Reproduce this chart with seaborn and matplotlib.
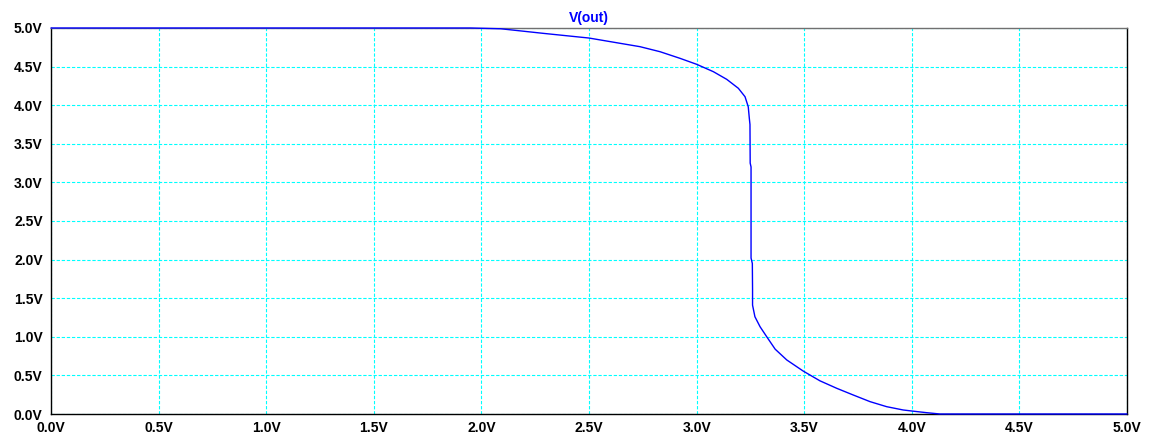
import matplotlib
matplotlib.use("Agg")
import matplotlib.pyplot as plt
import seaborn as sns
import pandas as pd

# Data (DC sweep of inverter input)
v_in = [0.0, 1.95, 2.09, 2.29, 2.5, 2.737, 2.83, 2.923, 3.0, 3.078, 3.14, 3.194,
        3.225, 3.24, 3.245, 3.248,
        3.249, 3.253, 3.253, 3.259, 3.26, 3.26, 3.271, 3.295, 3.326, 3.365, 3.419,
        3.496, 3.573, 3.651, 3.728, 3.806, 3.883, 3.96, 3.999, 4.069, 4.131, 5.0]
v_out = [5.0, 5.0, 4.99, 4.93, 4.87, 4.758, 4.693, 4.607, 4.53, 4.434, 4.335, 4.219,
         4.11, 3.98, 3.83, 3.75,
         3.25, 3.20, 2.02, 1.95, 1.61, 1.41, 1.26, 1.13, 1.0, 0.84, 0.70,
         0.555, 0.43, 0.333, 0.246, 0.16, 0.095, 0.052, 0.039, 0.017, 0.0, 0.0]
x_ticks = [0.0, 0.5, 1.0, 1.5, 2.0, 2.5, 3.0, 3.5, 4.0, 4.5, 5.0]
y_ticks = [0.0, 0.5, 1.0, 1.5, 2.0, 2.5, 3.0, 3.5, 4.0, 4.5, 5.0]
x_labels = [f"{v:.1f}V" for v in x_ticks]
y_labels = [f"{v:.1f}V" for v in y_ticks]
title = "V(out)"

sns.set_style("white")
plt.rcParams['font.family'] = ['Liberation Sans', 'DejaVu Sans']

df = pd.DataFrame({"vin": v_in, "vout": v_out})

fig = plt.figure(figsize=(11.5, 4.44), dpi=100)
ax = fig.add_axes([51/1150, 1 - 414/444, (1127-51)/1150, (414-28)/444])

sns.lineplot(data=df, x="vin", y="vout", sort=False, estimator=None,
             color="#0000ff", linewidth=1.0, ax=ax, zorder=3, clip_on=False)

ax.set_xlim(0, 5)
ax.set_ylim(0, 5)
ax.set_xticks(x_ticks)
ax.set_yticks(y_ticks)
ax.set_xticklabels(x_labels, fontsize=10, fontweight="bold")
ax.set_yticklabels(y_labels, fontsize=10, fontweight="bold")
ax.set_xlabel("")
ax.set_ylabel("")

ax.grid(True, color="#00ffff", linestyle=(0, (3, 1.6)), linewidth=0.8, zorder=1)
ax.set_axisbelow(True)
ax.tick_params(axis="both", direction="out", length=5, width=1, color="#505050",
               pad=1, labelcolor="#000000")
ax.tick_params(axis="x", pad=0)

for side in ["left", "bottom", "right"]:
    ax.spines[side].set_color("#000000")
    ax.spines[side].set_linewidth(1.0)
    ax.spines[side].set_visible(True)
ax.spines["top"].set_color("#707070")
ax.spines["top"].set_linewidth(1.0)
ax.spines["top"].set_visible(True)

ax.set_title(title, color="#0000ff", fontsize=10, fontweight="bold", pad=4)

fig.savefig("out.png", dpi=100)
